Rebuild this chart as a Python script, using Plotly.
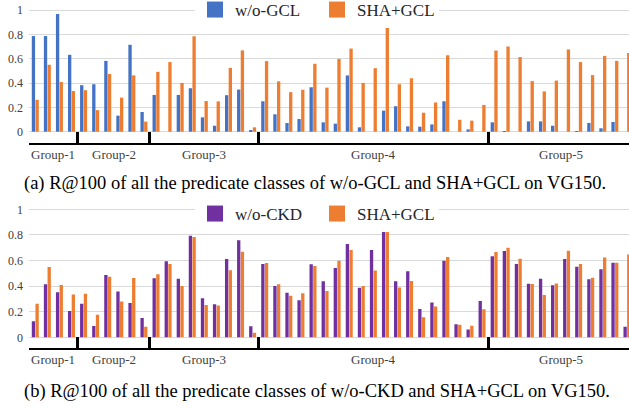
import plotly.graph_objects as go

# ---------------- data ----------------
classes = [f"P{i+1}" for i in range(50)]          # 50 predicate classes (names not shown in figure)
group_names = ["Group-1", "Group-2", "Group-3", "Group-4", "Group-5"]
group_sizes = [4, 6, 9, 19, 12]

wo_gcl = [0.786, 0.786, 0.967, 0.632, 0.382, 0.390, 0.582, 0.132, 0.714, 0.162,
          0.302, 0.000, 0.302, 0.357, 0.118, 0.049, 0.300, 0.346, 0.008, 0.250,
          0.143, 0.071, 0.104, 0.365, 0.077, 0.066, 0.462, 0.036, 0.000, 0.173,
          0.209, 0.044, 0.041, 0.060, 0.250, 0.000, 0.019, 0.000, 0.077, 0.005,
          0.000, 0.085, 0.085, 0.049, 0.000, 0.005, 0.072, 0.028, 0.080, 0.000]

sha_gcl = [0.262, 0.550, 0.408, 0.334, 0.341, 0.177, 0.474, 0.280, 0.463, 0.083,
           0.492, 0.572, 0.401, 0.784, 0.252, 0.249, 0.524, 0.668, 0.036, 0.580,
           0.414, 0.325, 0.345, 0.558, 0.362, 0.598, 0.683, 0.401, 0.522, 0.885,
           0.390, 0.439, 0.156, 0.240, 0.628, 0.098, 0.091, 0.220, 0.667, 0.700,
           0.613, 0.416, 0.331, 0.420, 0.676, 0.572, 0.465, 0.623, 0.582, 0.647]

wo_ckd = [0.125, 0.414, 0.352, 0.206, 0.263, 0.089, 0.487, 0.357, 0.268, 0.151,
          0.461, 0.594, 0.458, 0.794, 0.305, 0.258, 0.612, 0.758, 0.086, 0.573,
          0.401, 0.349, 0.289, 0.570, 0.438, 0.542, 0.729, 0.388, 0.682, 0.875,
          0.438, 0.516, 0.221, 0.271, 0.599, 0.102, 0.060, 0.284, 0.633, 0.674,
          0.573, 0.419, 0.458, 0.406, 0.612, 0.552, 0.453, 0.531, 0.583, 0.083]

y_tick_vals = [0, 0.2, 0.4, 0.6, 0.8, 1]
y_tick_text = ["0", "0.2", "0.4", "0.6", "0.8", "1"]

caption_a = "(a) R@100 of all the predicate classes of w/o-GCL and SHA+GCL on VG150."
caption_b = "(b) R@100 of all the predicate classes of w/o-CKD and SHA+GCL on VG150."

# ---------------- style ----------------
BLUE, ORANGE, PURPLE = "#4472C4", "#ED7D31", "#7030A0"
SERIF = "Liberation Serif"
W, H = 629, 408
L = 29

x = list(range(len(classes)))

# group boundaries / centres on the category axis
bounds = [-0.5]
for s in group_sizes:
    bounds.append(bounds[-1] + s)
centers = [(bounds[i] + bounds[i + 1]) / 2 for i in range(len(group_sizes))]

fig = go.Figure()
panels = [
    ("x", "y", "legend", [("w/o-GCL", wo_gcl, BLUE), ("SHA+GCL", sha_gcl, ORANGE)]),
    ("x2", "y2", "legend2", [("w/o-CKD", wo_ckd, PURPLE), ("SHA+GCL", sha_gcl, ORANGE)]),
]
for xa, ya, lg, series in panels:
    for name, vals, col in series:
        fig.add_trace(go.Bar(x=x, y=vals, name=name, marker_color=col, marker_line_width=0,
                             hovertext=classes, xaxis=xa, yaxis=ya, legend=lg,
                             legendgroup=lg + name, showlegend=False))
        # legend key (larger square swatch, as in the original figure)
        fig.add_trace(go.Scatter(x=[None], y=[None], mode="markers", name=name,
                                 marker=dict(symbol="square", size=16, color=col),
                                 xaxis=xa, yaxis=ya, legend=lg, legendgroup=lg + name,
                                 showlegend=True, hoverinfo="skip"))

px_per_cat = 12.08
x_range = [-0.52, -0.5 + (W - L) / px_per_cat]


def xaxis_cfg(anchor):
    return dict(domain=[0, 1], anchor=anchor, range=x_range, showgrid=False, zeroline=False,
                showline=True, linecolor="black", linewidth=2,
                tickmode="array", tickvals=bounds, ticks="inside", ticklen=11,
                tickwidth=2.5, tickcolor="black", showticklabels=False)


def yaxis_cfg(anchor, top_px, bottom_px, zero_px, one_px):
    unit = zero_px - one_px
    ymin = -(bottom_px - zero_px) / unit
    ymax = 1 + (one_px - top_px) / unit
    return dict(domain=[1 - bottom_px / H, 1 - top_px / H], anchor=anchor,
                range=[ymin, ymax], tickmode="array", tickvals=y_tick_vals,
                ticktext=y_tick_text, showgrid=True, gridcolor="#D9D9D9", gridwidth=1,
                zeroline=False, showline=False, ticks="", ticklabelstandoff=5,
                tickfont=dict(family=SERIF, size=12, color="#404040"))


legend_common = dict(orientation="h", x=(195 - L) / (W - L), xanchor="left",
                     yanchor="middle", bgcolor="white", itemsizing="trace",
                     font=dict(family=SERIF, size=17, color="#262626"),
                     entrywidth=77, entrywidthmode="pixels", itemclick=False,
                     itemdoubleclick=False)

fig.update_layout(
    width=W, height=H,
    margin=dict(l=L, r=0, t=0, b=0, autoexpand=False),
    paper_bgcolor="white", plot_bgcolor="white",
    font=dict(family=SERIF, color="#262626"),
    barmode="group", bargap=0.39, bargroupgap=0.1,
    xaxis=xaxis_cfg("y"),
    yaxis=yaxis_cfg("x", 8, 143, 131.7, 10),
    xaxis2=xaxis_cfg("y2"),
    yaxis2=yaxis_cfg("x2", 207, 348.3, 337.3, 209.3),
    legend=dict(legend_common, y=1 - 10 / H),
    legend2=dict(legend_common, y=1 - 214 / H),
    showlegend=True,
)

annotations = []
for xa, ya in (("x", "y"), ("x2", "y2")):
    for name, c in zip(group_names, centers):
        annotations.append(dict(xref=xa, yref=ya + " domain", x=c, y=0, text=name,
                                showarrow=False, xanchor="center", yanchor="middle",
                                yshift=-11, font=dict(family=SERIF, size=13, color="#404040")))
annotations.append(dict(xref="paper", yref="paper", x=(22 - L) / (W - L), y=1 - 184 / H,
                        text=caption_a, showarrow=False, xanchor="left", yanchor="middle",
                        font=dict(family=SERIF, size=18.5, color="black")))
annotations.append(dict(xref="paper", yref="paper", x=(22 - L) / (W - L), y=1 - 391 / H,
                        text=caption_b, showarrow=False, xanchor="left", yanchor="middle",
                        font=dict(family=SERIF, size=18.5, color="black")))
fig.update_layout(annotations=annotations)

fig.write_html("out.html", config={"displayModeBar": False},
               post_script="document.body.style.margin='0px';document.body.style.overflow='hidden';")
